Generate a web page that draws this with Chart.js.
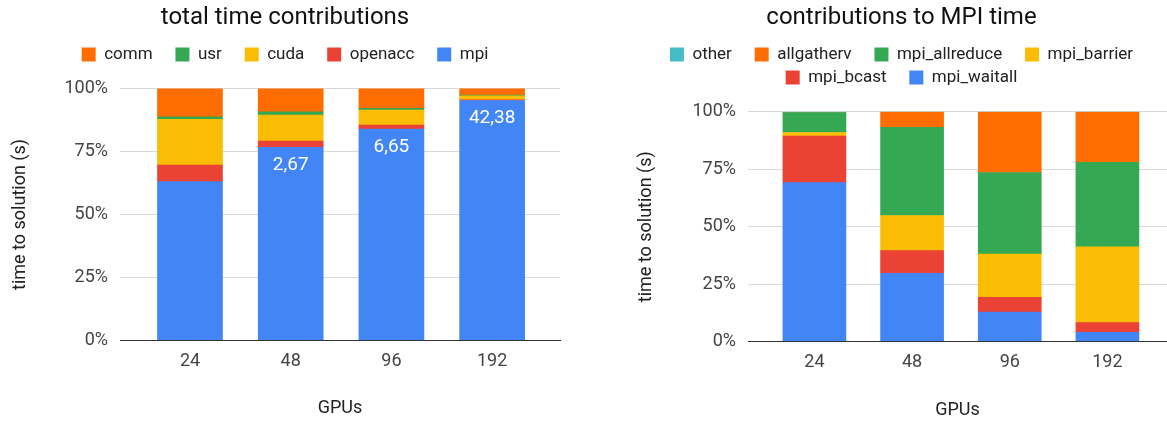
<!DOCTYPE html>
<html>
<head>
<meta charset="utf-8">
<script src="https://cdn.jsdelivr.net/npm/chart.js@4.4.1/dist/chart.umd.min.js"></script>
<style>
  html, body { margin: 0; padding: 0; background: #ffffff; }
  body { width: 1167px; height: 423px; position: relative; overflow: hidden; }
  .panel { position: absolute; top: 0; height: 423px; }
  #leftPanel { left: 0; width: 575px; }
  #rightPanel { left: 600px; width: 567px; }
</style>
</head>
<body>
<div class="panel" id="leftPanel"><canvas id="totalChart" width="575" height="423"></canvas></div>
<div class="panel" id="rightPanel"><canvas id="mpiChart" width="567" height="423"></canvas></div>
<script>
// GPU counts on the x axis
const gpuCounts = ['24', '48', '96', '192'];

// Total time per component (s)
const mpiSec     = [1.10, 2.67, 6.65, 42.38];
const openaccSec = [0.115, 0.087, 0.119, 0.13];
const cudaSec    = [0.316, 0.359, 0.476, 0.71];
const usrSec     = [0.017, 0.045, 0.055, 0.09];
const commSec    = [0.197, 0.324, 0.626, 1.20];
const mpiLabelShown = [false, true, true, true];

// Share of MPI time per call (%)
const waitallPct    = [69.2, 29.7, 12.9, 4.1];
const bcastPct      = [20.2, 9.9, 6.4, 4.2];
const barrierPct    = [1.6, 15.3, 18.8, 33.0];
const allreducePct  = [8.7, 38.3, 35.5, 36.7];
const allgathervPct = [0.0, 6.8, 26.4, 22.0];
const otherPct      = [0.3, 0.0, 0.0, 0.0];

// y-axis tick values
const percentTicks = [0, 25, 50, 75, 100];

const COLORS = {
  blue: '#4285F4', red: '#EA4335', yellow: '#FBBC04',
  green: '#34A853', orange: '#FF6D01', teal: '#46BDC6'
};

Chart.defaults.font.family = 'Roboto';
Chart.defaults.color = '#444';

// Normalise stacked series so every column adds up to 100 %
function toShares(seriesList) {
  const totals = gpuCounts.map((_, i) => seriesList.reduce((s, arr) => s + arr[i], 0));
  return seriesList.map(arr => arr.map((v, i) => ({ x: i, y: 100 * v / totals[i] })));
}

// Empty layout box placed between the legend and the plot area
function legendGap(size) {
  return {
    id: 'legendGap',
    beforeInit(chart) {
      Chart.layouts.addBox(chart, {
        position: 'top', weight: 1, fullSize: true, options: {},
        left: 0, top: 0, right: 0, bottom: 0, width: 0, height: 0,
        isHorizontal() { return true; },
        update(maxWidth) { this.width = maxWidth; this.height = size; },
        draw() {}
      });
    }
  };
}

// White value labels inside the mpi segments
const mpiValueLabels = {
  id: 'mpiValueLabels',
  afterDatasetsDraw(chart) {
    const meta = chart.getDatasetMeta(0);
    const ctx = chart.ctx;
    ctx.save();
    ctx.fillStyle = '#ffffff';
    ctx.font = '19px Roboto';
    ctx.textAlign = 'center';
    ctx.textBaseline = 'middle';
    meta.data.forEach((bar, i) => {
      if (!mpiLabelShown[i]) return;
      ctx.fillText(mpiSec[i].toFixed(2).replace('.', ','), bar.x, bar.y + 18);
    });
    ctx.restore();
  }
};

// Legend entries get extra trailing room, except the last entry of each row
function legendLabels(rowEnds) {
  return (chart) =>
    Chart.defaults.plugins.legend.labels.generateLabels(chart)
      .map(item => Object.assign(item, { text: rowEnds.includes(item.text) ? item.text : item.text + '    ' }));
}

function buildOptions(cfg) {
  return {
    responsive: false,
    animation: false,
    layout: { padding: { left: cfg.padLeft, right: cfg.padRight, top: 0, bottom: 0 } },
    plugins: {
      title: {
        display: true, text: cfg.title, color: '#111',
        font: { size: 24, weight: 'normal' },
        padding: { top: 4, bottom: 7.2 }
      },
      legend: {
        reverse: true,
        labels: {
          boxWidth: 14, boxHeight: 14, padding: 6, color: '#222',
          font: { size: 17 },
          generateLabels: legendLabels(cfg.rowEnds)
        }
      },
      tooltip: { enabled: false }
    },
    scales: {
      x: {
        type: 'linear', stacked: true, min: cfg.xMin, max: cfg.xMax, offset: false,
        afterBuildTicks: (scale) => { scale.ticks = gpuCounts.map((_, i) => ({ value: i })); },
        afterFit: (scale) => { scale.height = cfg.xHeight; },
        ticks: { callback: (v) => gpuCounts[v], font: { size: 18 }, color: '#444', padding: 10, autoSkip: false, maxRotation: 0 },
        grid: { display: false, drawTicks: false },
        border: { display: true, color: '#333333', width: 1, z: 1 },
        title: { display: true, text: 'GPUs', font: { size: 18 }, color: '#222', padding: { top: 0, bottom: cfg.xTitlePad } }
      },
      y: {
        stacked: true, min: 0, max: 100,
        afterBuildTicks: (scale) => { scale.ticks = percentTicks.map(v => ({ value: v })); },
        afterFit: (scale) => { scale.width = cfg.yWidth; },
        ticks: { callback: (v) => v + '%', font: { size: 18 }, color: '#444', padding: 12 },
        grid: { color: (c) => (c.tick && c.tick.value === 0) ? 'rgba(0,0,0,0)' : '#d9d9d9', drawTicks: false },
        border: { display: false },
        title: { display: true, text: 'time to solution (s)', font: { size: 18 }, color: '#222', padding: { top: cfg.yTitlePad, bottom: 0 } }
      }
    }
  };
}

// Left: total time contributions
const totalShares = toShares([mpiSec, openaccSec, cudaSec, usrSec, commSec]);
new Chart(document.getElementById('totalChart'), {
  type: 'bar',
  data: {
    datasets: [
      { label: 'mpi',     data: totalShares[0], backgroundColor: COLORS.blue },
      { label: 'openacc', data: totalShares[1], backgroundColor: COLORS.red },
      { label: 'cuda',    data: totalShares[2], backgroundColor: COLORS.yellow },
      { label: 'usr',     data: totalShares[3], backgroundColor: COLORS.green },
      { label: 'comm',    data: totalShares[4], backgroundColor: COLORS.orange }
    ].map(d => Object.assign(d, { barThickness: 65, borderWidth: 0 }))
  },
  options: buildOptions({
    title: 'total time contributions', padLeft: 10, padRight: 15, rowEnds: ['mpi'],
    xMin: -0.695, xMax: 3.674, xHeight: 82.5, xTitlePad: 4,
    yWidth: 110, yTitlePad: 0
  }),
  plugins: [legendGap(15.4), mpiValueLabels]
});

// Right: contributions to MPI time
const mpiShares = toShares([waitallPct, bcastPct, barrierPct, allreducePct, allgathervPct, otherPct]);
new Chart(document.getElementById('mpiChart'), {
  type: 'bar',
  data: {
    datasets: [
      { label: 'mpi_waitall',   data: mpiShares[0], backgroundColor: COLORS.blue },
      { label: 'mpi_bcast',     data: mpiShares[1], backgroundColor: COLORS.red },
      { label: 'mpi_barrier',   data: mpiShares[2], backgroundColor: COLORS.yellow },
      { label: 'mpi_allreduce', data: mpiShares[3], backgroundColor: COLORS.green },
      { label: 'allgatherv',    data: mpiShares[4], backgroundColor: COLORS.orange },
      { label: 'other',         data: mpiShares[5], backgroundColor: COLORS.teal }
    ].map(d => Object.assign(d, { barThickness: 63, borderWidth: 0 }))
  },
  options: buildOptions({
    title: 'contributions to MPI time', padLeft: 36, padRight: 0, rowEnds: ['mpi_barrier', 'mpi_waitall'],
    xMin: -0.68, xMax: 3.61, xHeight: 81.3, xTitlePad: 2,
    yWidth: 112, yTitlePad: 0
  }),
  plugins: [legendGap(15.8)]
});
</script>
</body>
</html>
